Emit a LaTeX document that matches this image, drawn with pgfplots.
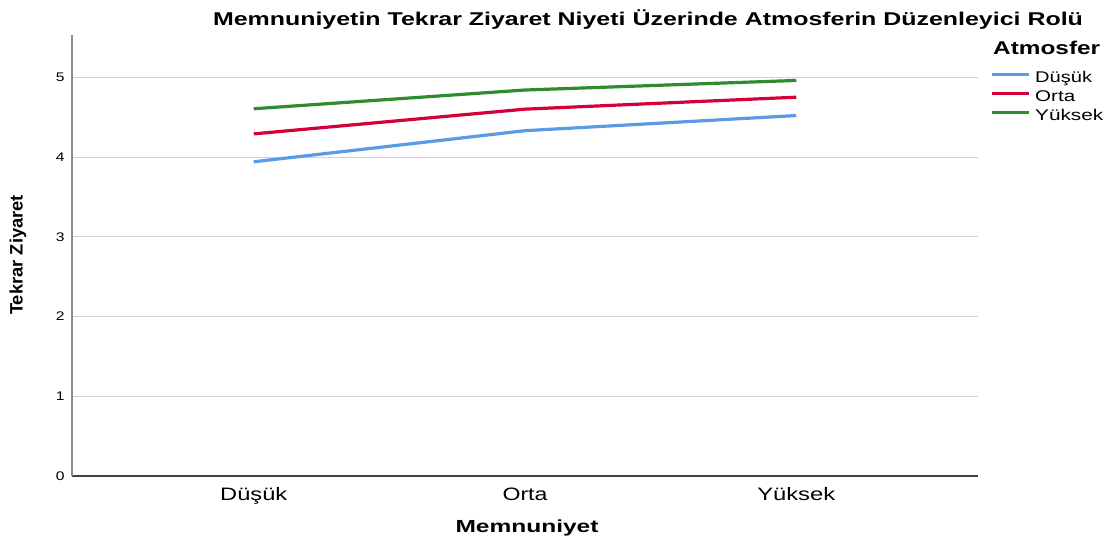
\documentclass[border=0pt]{standalone}
\usepackage{fontspec}
\setmainfont{Liberation Sans}
\usepackage{graphicx}
\usepackage{pgfplots}
\pgfplotsset{compat=1.18}

\definecolor{cLow}{HTML}{5B9BE6}
\definecolor{cMid}{HTML}{D5003A}
\definecolor{cHigh}{HTML}{2E8B2E}
\definecolor{gridc}{HTML}{D2D2D2}

% text in the reference is stretched sideways
\newcommand{\wide}[2]{\resizebox{#1}{\height}{#2}}
\newcommand{\hstretch}[1]{\scalebox{1.25}[1]{#1}}

\begin{document}
\begin{tikzpicture}[x=1pt,y=1pt]
  \useasboundingbox (0,0) rectangle (1103,541);

  \begin{axis}[
    at={(72pt,65pt)}, anchor=south west,
    scale only axis,
    width=906pt, height=441pt,
    xmin=-0.67, xmax=2.67,
    ymin=0, ymax=5.53,
    axis x line*=bottom, axis y line*=left,
    x axis line style={-, draw=black!75, line width=1.2pt},
    y axis line style={-, draw=black!45, line width=1.8pt},
    xtick={0,1,2},
    xticklabels={\wide{67pt}{Düşük},\wide{45pt}{Orta},\wide{78pt}{Yüksek}},
    ytick={0,1,2,3,4,5},
    yticklabels={\hstretch{0},\hstretch{1},\hstretch{2},\hstretch{3},\hstretch{4},\hstretch{5}},
    major tick length=0pt,
    ymajorgrids,
    grid style={gridc, line width=1pt},
    yticklabel style={font=\fontsize{12.5}{14}\selectfont, xshift=-4pt},
    xticklabel style={font=\fontsize{18}{20}\selectfont, yshift=-8pt},
    legend style={
      at={(1.013,0.917)}, anchor=north west,
      draw=none, fill=none,
      font=\fontsize{15.5}{18.5}\selectfont,
      row sep=4.7pt, inner sep=0pt,
      nodes={text height=11pt, text depth=3pt, inner sep=0pt},
      legend cell align=left,
    },
    legend image code/.code={\draw[#1] (0pt,4pt) -- (37pt,4pt);},
    clip=false,
  ]
    \addplot[cLow, line width=3.2pt] coordinates {(0,3.94) (1,4.33) (2,4.52)};
    \addlegendentry{\hspace{5pt}\wide{57pt}{Düşük}}
    \addplot[cMid, line width=3.2pt] coordinates {(0,4.29) (1,4.60) (2,4.75)};
    \addlegendentry{\hspace{5pt}\wide{40pt}{Orta}}
    \addplot[cHigh, line width=3.2pt] coordinates {(0,4.605) (1,4.84) (2,4.96)};
    \addlegendentry{\hspace{5pt}\wide{68pt}{Yüksek}}
  \end{axis}

  \node[font=\fontsize{18.5}{22}\selectfont\bfseries] at (648,521)
    {\wide{870pt}{Memnuniyetin Tekrar Ziyaret Niyeti Üzerinde Atmosferin Düzenleyici Rolü}};
  \node[font=\fontsize{18.5}{22}\selectfont\bfseries, anchor=west, inner sep=0pt] at (993,493)
    {\wide{107pt}{Atmosfer}};
  \node[font=\fontsize{18}{20}\selectfont\bfseries, rotate=90] at (18,286)
    {\resizebox{120pt}{\height}{Tekrar Ziyaret}};
  \node[font=\fontsize{17.5}{22}\selectfont\bfseries] at (527,13)
    {\wide{143pt}{Memnuniyet}};
\end{tikzpicture}
\end{document}
